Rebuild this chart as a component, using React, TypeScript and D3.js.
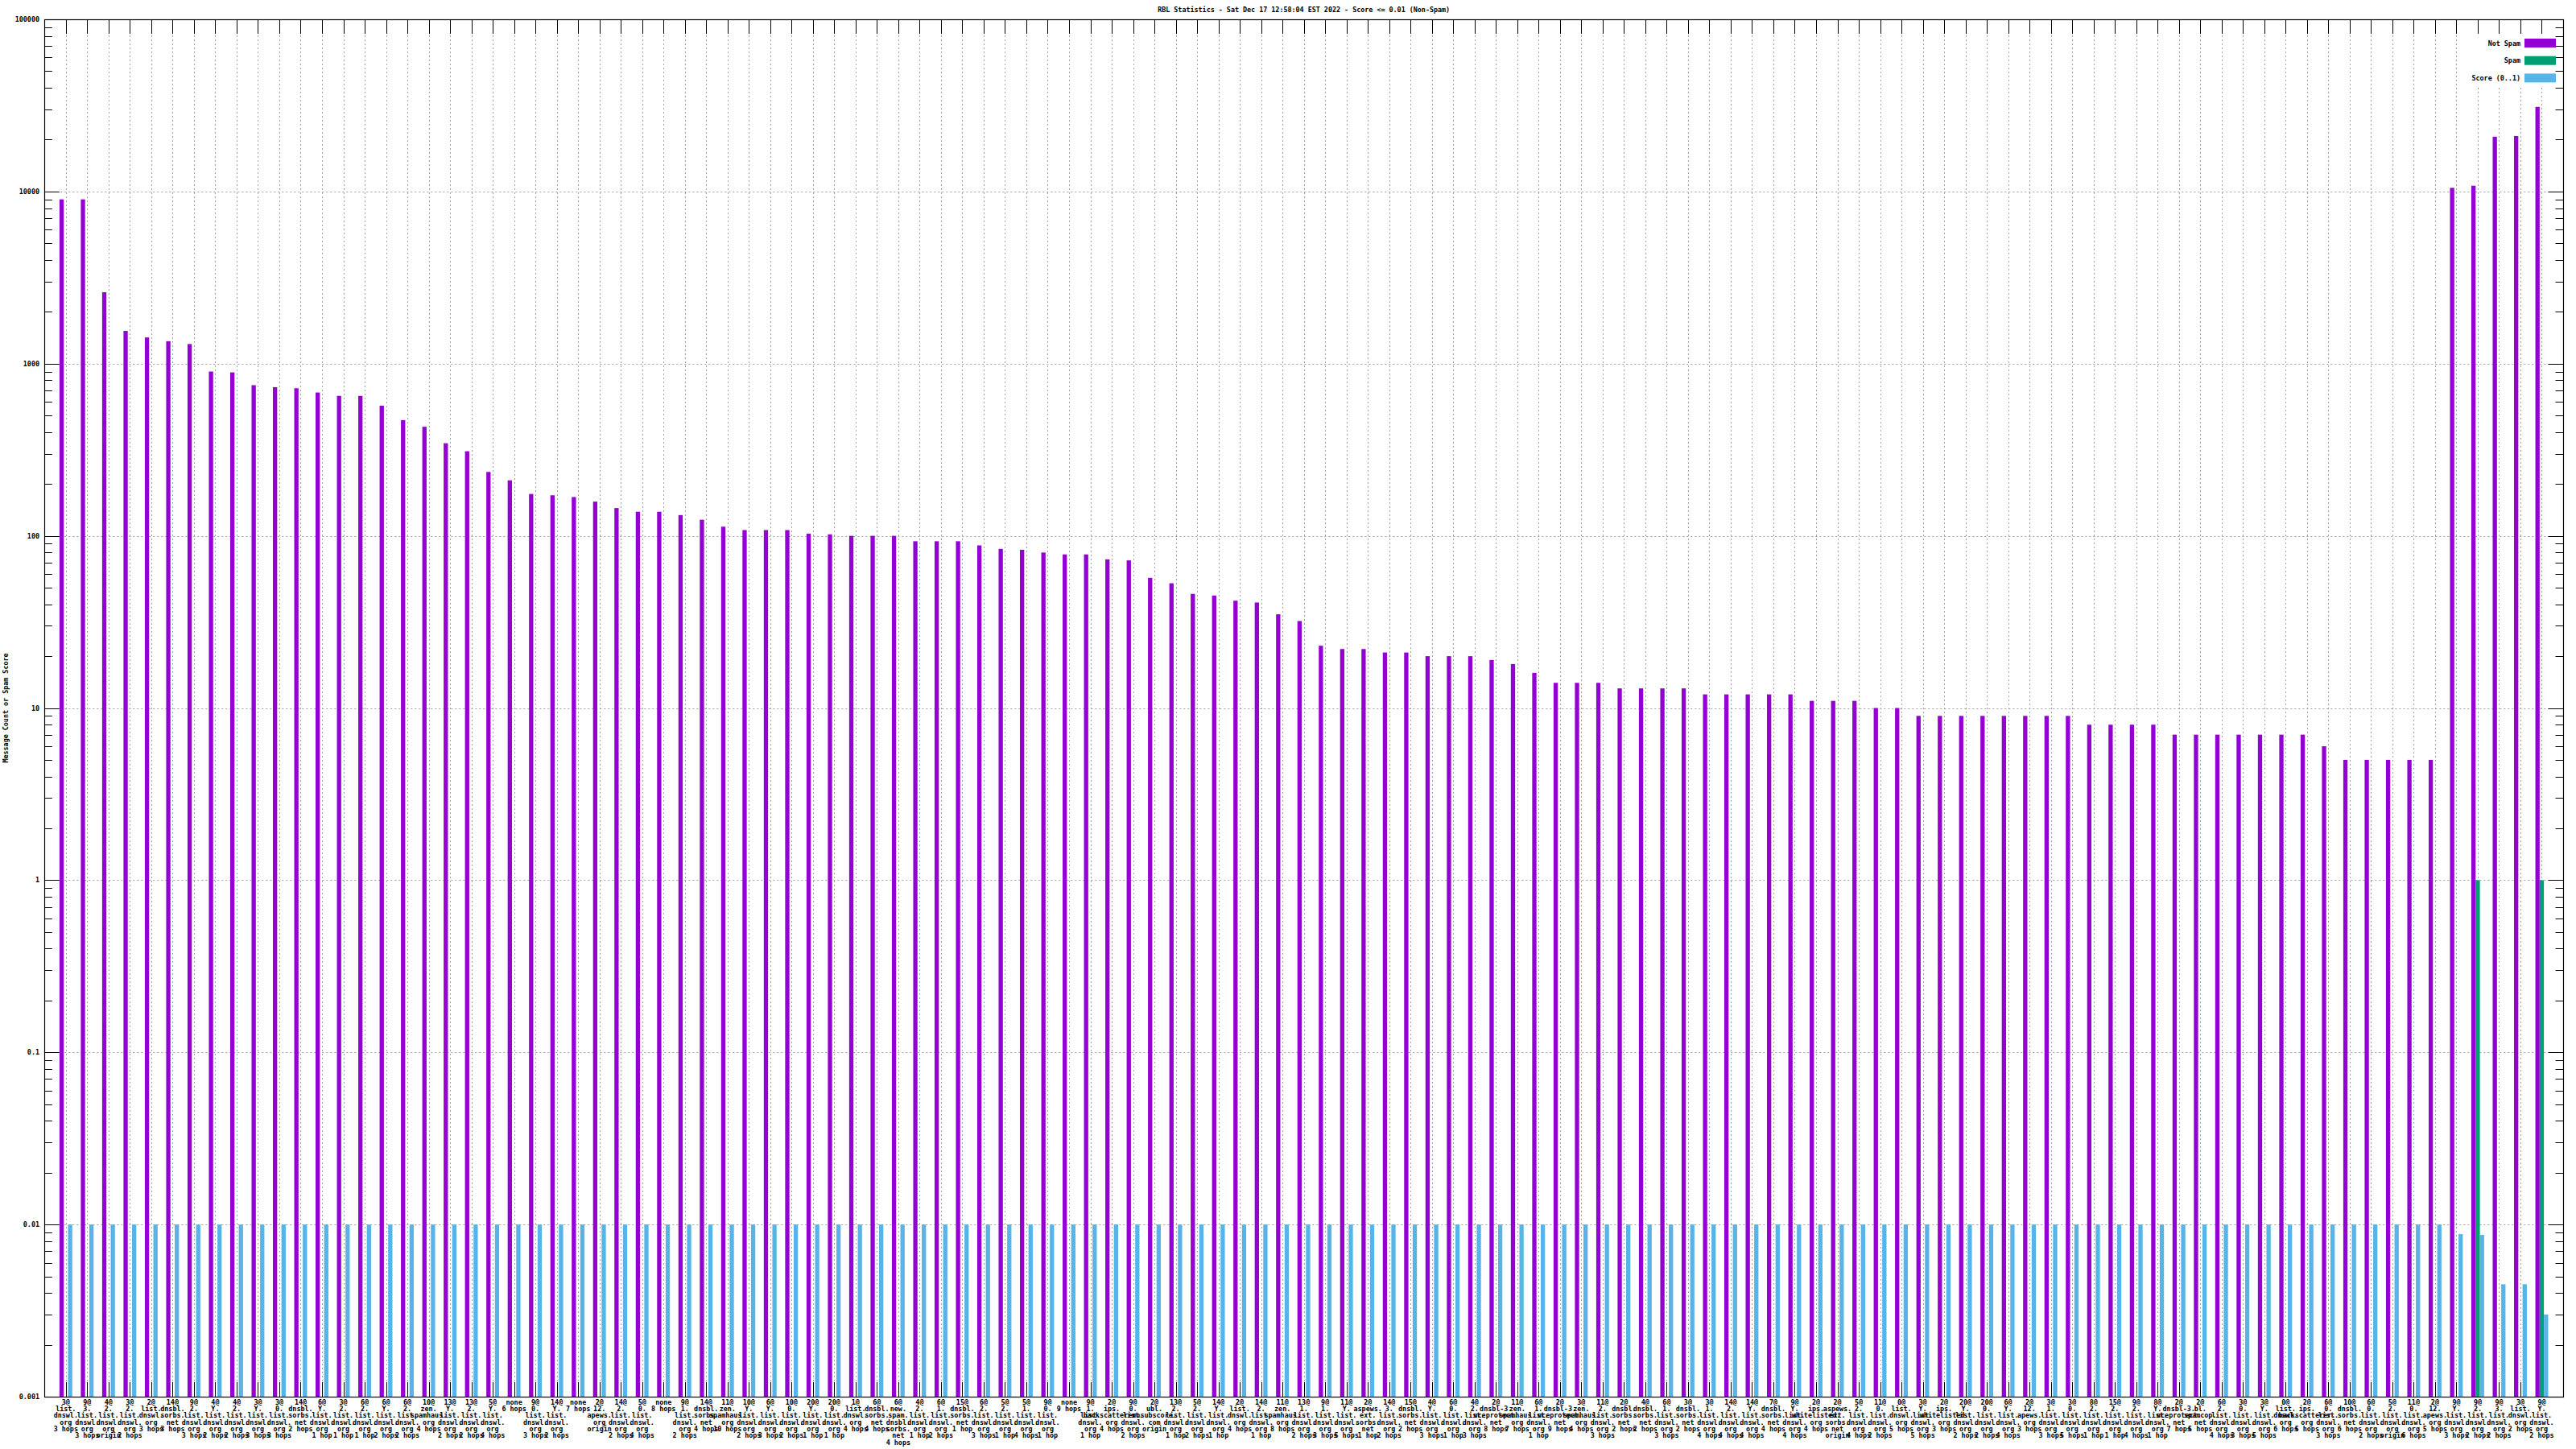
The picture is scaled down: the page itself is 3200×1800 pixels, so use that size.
import React from "react";
import * as d3 from "d3";

const title = "RBL Statistics - Sat Dec 17 12:58:04 EST 2022 - Score <= 0.01 (Non-Spam)";
const yLabel = "Message Count or Spam Score";
const seriesNames = ["Not Spam", "Spam", "Score (0..1)"];
const seriesColors = ["#9400d3", "#009e73", "#56b4e9"];
const yTicks = [0.001, 0.01, 0.1, 1, 10, 100, 1000, 10000, 100000];
const yTickLabels = ["0.001", "0.01", "0.1", "1", "10", "100", "1000", "10000", "100000"];

const categories = [
  "3@list.dnswl.org 3 hops", "9@3.list.dnswl.org 3 hops", "4@2.list.dnswl.org origin", "3@2.list.dnswl.org 2 hops",
  "2@list.dnswl.org 3 hops", "14@dnsbl.sorbs.net 3 hops", "9@2.list.dnswl.org 3 hops", "4@Y.list.dnswl.org 2 hops",
  "4@2.list.dnswl.org 2 hops", "3@Y.list.dnswl.org 3 hops", "3@0.list.dnswl.org 3 hops", "14@dnsbl.sorbs.net 2 hops",
  "6@Y.list.dnswl.org 1 hop", "3@2.list.dnswl.org 1 hop", "6@2.list.dnswl.org 1 hop", "6@Y.list.dnswl.org 2 hops",
  "6@2.list.dnswl.org 2 hops", "10@zen.spamhaus.org 4 hops", "13@Y.list.dnswl.org 2 hops", "13@2.list.dnswl.org 2 hops",
  "5@Y.list.dnswl.org 4 hops", "none 6 hops", "9@0.list.dnswl.org 3 hops", "14@Y.list.dnswl.org 2 hops",
  "none 7 hops", "2@12.apews.org origin", "14@2.list.dnswl.org 2 hops", "5@0.list.dnswl.org 4 hops",
  "none 8 hops", "9@1.list.dnswl.org 2 hops", "14@dnsbl.sorbs.net 4 hops", "11@zen.spamhaus.org 10 hops",
  "10@Y.list.dnswl.org 2 hops", "6@Y.list.dnswl.org 3 hops", "10@0.list.dnswl.org 2 hops", "20@Y.list.dnswl.org 1 hop",
  "20@0.list.dnswl.org 1 hop", "1@list.dnswl.org 4 hops", "6@dnsbl.sorbs.net 4 hops", "6@new.spam.dnsbl.sorbs.net 4 hops",
  "4@2.list.dnswl.org 1 hop", "6@1.list.dnswl.org 2 hops", "15@dnsbl.sorbs.net 1 hop", "6@2.list.dnswl.org 3 hops",
  "5@2.list.dnswl.org 1 hop", "5@1.list.dnswl.org 4 hops", "9@0.list.dnswl.org 1 hop", "none 9 hops",
  "9@1.list.dnswl.org 1 hop", "2@ips.backscatterer.org 4 hops", "9@0.list.dnswl.org 2 hops", "2@ubl.unsubscore.com origin",
  "13@2.list.dnswl.org 1 hop", "5@2.list.dnswl.org 2 hops", "14@Y.list.dnswl.org 1 hop", "2@list.dnswl.org 4 hops",
  "14@2.list.dnswl.org 1 hop", "11@zen.spamhaus.org 8 hops", "13@1.list.dnswl.org 2 hops", "9@1.list.dnswl.org 3 hops",
  "11@Y.list.dnswl.org 5 hops", "2@aspews.ext.sorbs.net 1 hop", "14@3.list.dnswl.org 2 hops", "15@dnsbl.sorbs.net 2 hops",
  "4@Y.list.dnswl.org 3 hops", "6@0.list.dnswl.org 1 hop", "4@2.list.dnswl.org 3 hops", "2@dnsbl-3.uceprotect.net 8 hops",
  "11@zen.spamhaus.org 7 hops", "6@1.list.dnswl.org 1 hop", "2@dnsbl-3.uceprotect.net 9 hops", "3@zen.spamhaus.org 4 hops",
  "11@2.list.dnswl.org 3 hops", "2@dnsbl.sorbs.net 2 hops", "4@dnsbl.sorbs.net 2 hops", "6@1.list.dnswl.org 3 hops",
  "3@dnsbl.sorbs.net 2 hops", "3@1.list.dnswl.org 4 hops", "14@2.list.dnswl.org 4 hops", "14@Y.list.dnswl.org 4 hops",
  "7@dnsbl.sorbs.net 4 hops", "9@Y.list.dnswl.org 4 hops", "2@ips.whitelisted.org 4 hops", "2@aspews.ext.sorbs.net origin",
  "5@2.list.dnswl.org 4 hops", "11@0.list.dnswl.org 2 hops", "0@list.dnswl.org 5 hops", "3@Y.list.dnswl.org 5 hops",
  "2@ips.whitelisted.org 3 hops", "20@Y.list.dnswl.org 2 hops", "20@0.list.dnswl.org 2 hops", "6@Y.list.dnswl.org 4 hops",
  "2@12.apews.org 3 hops", "3@1.list.dnswl.org 3 hops", "3@0.list.dnswl.org 5 hops", "8@2.list.dnswl.org 1 hop",
  "15@2.list.dnswl.org 1 hop", "9@2.list.dnswl.org 4 hops", "8@Y.list.dnswl.org 1 hop", "2@dnsbl-3.uceprotect.net 7 hops",
  "2@bl.spamcop.net 5 hops", "6@2.list.dnswl.org 4 hops", "3@0.list.dnswl.org 3 hops", "3@Y.list.dnswl.org 5 hops",
  "0@list.dnswl.org 6 hops", "2@ips.backscatterer.org 5 hops", "6@0.list.dnswl.org 3 hops", "10@dnsbl.sorbs.net 6 hops",
  "6@0.list.dnswl.org 2 hops", "5@2.list.dnswl.org origin", "11@0.list.dnswl.org 6 hops", "2@12.apews.org 5 hops",
  "9@Y.list.dnswl.org 3 hops", "9@2.list.dnswl.org 2 hops", "9@3.list.dnswl.org 2 hops", "3@list.dnswl.org 2 hops",
  "9@Y.list.dnswl.org 2 hops",
];

const notSpam = [
  9000, 9000, 2600, 1550, 1420, 1350, 1300, 900, 890, 750,
  730, 720, 680, 650, 650, 570, 470, 430, 345, 310,
  235, 210, 175, 172, 168, 158, 145, 138, 138, 132,
  124, 113, 108, 108, 108, 103, 102, 100, 100, 100,
  93, 93, 93, 88, 84, 83, 80, 78, 78, 73,
  72, 57, 53, 46, 45, 42, 41, 35, 32, 23,
  22, 22, 21, 21, 20, 20, 20, 19, 18, 16,
  14, 14, 14, 13, 13, 13, 13, 12, 12, 12,
  12, 12, 11, 11, 11, 10, 10, 9, 9, 9,
  9, 9, 9, 9, 9, 8, 8, 8, 8, 7,
  7, 7, 7, 7, 7, 7, 6, 5, 5, 5,
  5, 5, 10500, 10800, 20800, 21000, 31000,
];

const spam = [
  0, 0, 0, 0, 0, 0, 0, 0, 0, 0,
  0, 0, 0, 0, 0, 0, 0, 0, 0, 0,
  0, 0, 0, 0, 0, 0, 0, 0, 0, 0,
  0, 0, 0, 0, 0, 0, 0, 0, 0, 0,
  0, 0, 0, 0, 0, 0, 0, 0, 0, 0,
  0, 0, 0, 0, 0, 0, 0, 0, 0, 0,
  0, 0, 0, 0, 0, 0, 0, 0, 0, 0,
  0, 0, 0, 0, 0, 0, 0, 0, 0, 0,
  0, 0, 0, 0, 0, 0, 0, 0, 0, 0,
  0, 0, 0, 0, 0, 0, 0, 0, 0, 0,
  0, 0, 0, 0, 0, 0, 0, 0, 0, 0,
  0, 0, 0, 1, 0, 0, 1,
];

const score = [
  0.01, 0.01, 0.01, 0.01, 0.01, 0.01, 0.01, 0.01, 0.01, 0.01,
  0.01, 0.01, 0.01, 0.01, 0.01, 0.01, 0.01, 0.01, 0.01, 0.01,
  0.01, 0.01, 0.01, 0.01, 0.01, 0.01, 0.01, 0.01, 0.01, 0.01,
  0.01, 0.01, 0.01, 0.01, 0.01, 0.01, 0.01, 0.01, 0.01, 0.01,
  0.01, 0.01, 0.01, 0.01, 0.01, 0.01, 0.01, 0.01, 0.01, 0.01,
  0.01, 0.01, 0.01, 0.01, 0.01, 0.01, 0.01, 0.01, 0.01, 0.01,
  0.01, 0.01, 0.01, 0.01, 0.01, 0.01, 0.01, 0.01, 0.01, 0.01,
  0.01, 0.01, 0.01, 0.01, 0.01, 0.01, 0.01, 0.01, 0.01, 0.01,
  0.01, 0.01, 0.01, 0.01, 0.01, 0.01, 0.01, 0.01, 0.01, 0.01,
  0.01, 0.01, 0.01, 0.01, 0.01, 0.01, 0.01, 0.01, 0.01, 0.01,
  0.01, 0.01, 0.01, 0.01, 0.01, 0.01, 0.01, 0.01, 0.01, 0.01,
  0.01, 0.01, 0.0088, 0.0087, 0.0045, 0.0045, 0.003,
];

function splitLabel(s: string): string[] {
  const sp = s.indexOf(" ");
  const head = s.slice(0, sp);
  const hops = s.slice(sp + 1);
  if (head === "none") return ["none", hops];
  const at = head.indexOf("@");
  const count = head.slice(0, at + 1);
  const parts = head.slice(at + 1).split(".");
  const lines = [count];
  parts.forEach((p, i) => lines.push(i < parts.length - 1 ? p + "." : p));
  lines.push(hops);
  return lines;
}

const W = 3200, H = 1800;
const L = 55.3, R = 3184, T = 24, B = 1735;
const FONT = "'DejaVu Sans Mono', monospace";
const FS = 8.4;

export default function App() {
  const n = categories.length;
  const x = d3.scaleLinear().domain([-1, n]).range([L, R]);
  const y = d3.scaleLog().domain([0.001, 100000]).range([B, T]);
  const bw = 0.2;
  const series = [notSpam, spam, score];
  const offsets = [-0.3, -0.1, 0.1];

  const minorTicks: number[] = [];
  for (let e = -3; e < 5; e++) {
    for (let m = 2; m <= 9; m++) minorTicks.push(m * Math.pow(10, e));
  }

  return (
    <svg width={W} height={H} style={{ position: "absolute", left: 0, top: 0, background: "#fff" }}
      fontFamily={FONT} fontWeight="bold">
      <rect x={0} y={0} width={W} height={H} fill="#fff" />
      {/* grid */}
      <g stroke="#a0a0a0" strokeWidth={1} strokeDasharray="2,3">
        {yTicks.slice(1, -1).map((v) => (
          <line key={"gy" + v} x1={L} x2={R} y1={Math.round(y(v)) + 0.5} y2={Math.round(y(v)) + 0.5} />
        ))}
        {categories.map((_, i) => (
          <line key={"gx" + i} x1={Math.round(x(i)) + 0.5} x2={Math.round(x(i)) + 0.5} y1={T} y2={B} />
        ))}
      </g>
      {/* x ticks */}
      <g stroke="#000" strokeWidth={1}>
        {categories.map((_, i) => (
          <g key={"xt" + i}>
            <line x1={Math.round(x(i)) + 0.5} x2={Math.round(x(i)) + 0.5} y1={B} y2={B - 18} />
            <line x1={Math.round(x(i)) + 0.5} x2={Math.round(x(i)) + 0.5} y1={T} y2={T + 18} />
          </g>
        ))}
      </g>
      {/* legend background */}
      <rect x={3062} y={T + 19} width={R - 3062} height={66} fill="#fff" />
      {/* bars */}
      {series.map((vals, s) => (
        <g key={"s" + s} fill={seriesColors[s]}>
          {vals.map((v, i) =>
            v > 0 ? (
              <rect key={i} x={x(i + offsets[s])} width={x(i + offsets[s] + bw) - x(i + offsets[s])}
                y={y(v)} height={B - y(v)} />
            ) : null
          )}
        </g>
      ))}
      {/* y ticks */}
      <g stroke="#000" strokeWidth={1}>
        {yTicks.map((v) => (
          <g key={"yt" + v}>
            <line x1={L} x2={L + 18.5} y1={Math.round(y(v)) + 0.5} y2={Math.round(y(v)) + 0.5} />
            <line x1={R} x2={R - 18.5} y1={Math.round(y(v)) + 0.5} y2={Math.round(y(v)) + 0.5} />
          </g>
        ))}
        {minorTicks.map((v) => (
          <g key={"ym" + v}>
            <line x1={L} x2={L + 9.5} y1={Math.round(y(v)) + 0.5} y2={Math.round(y(v)) + 0.5} />
            <line x1={R} x2={R - 9.5} y1={Math.round(y(v)) + 0.5} y2={Math.round(y(v)) + 0.5} />
          </g>
        ))}
      </g>
      {/* border */}
      <rect x={Math.round(L) + 0.5} y={T + 0.5} width={Math.round(R) - Math.round(L)} height={B - T} fill="none" stroke="#000" strokeWidth={1.2} />
      {/* y tick labels */}
      <g fontSize={FS} textAnchor="end" fill="#000">
        {yTicks.map((v, k) => (
          <text key={"yl" + v} x={49} y={y(v)} dominantBaseline="central">{yTickLabels[k]}</text>
        ))}
      </g>
      {/* x labels */}
      <g fontSize={FS} textAnchor="middle" fill="#000">
        {categories.map((c, i) => (
          <text key={"xl" + i} x={x(i)} y={0}>
            {splitLabel(c).map((ln, k) => (
              <tspan key={k} x={x(i)} y={1741.7 + 8.33 * k} dominantBaseline="central">{ln}</tspan>
            ))}
          </text>
        ))}
      </g>
      {/* title */}
      <text x={(L + R) / 2} y={12} fontSize={FS} textAnchor="middle" dominantBaseline="central">{title}</text>
      {/* y label */}
      <text transform={`translate(7,${(T + B) / 2}) rotate(-90)`} fontSize={FS} textAnchor="middle"
        dominantBaseline="central">{yLabel}</text>
      {/* legend */}
      {seriesNames.map((nm, s) => (
        <g key={"lg" + s}>
          <text x={3131} y={53.5 + 21.7 * s} fontSize={FS} textAnchor="end" dominantBaseline="central">{nm}</text>
          <rect x={3136} y={48 + 21.7 * s} width={39} height={11} fill={seriesColors[s]} />
        </g>
      ))}
    </svg>
  );
}
